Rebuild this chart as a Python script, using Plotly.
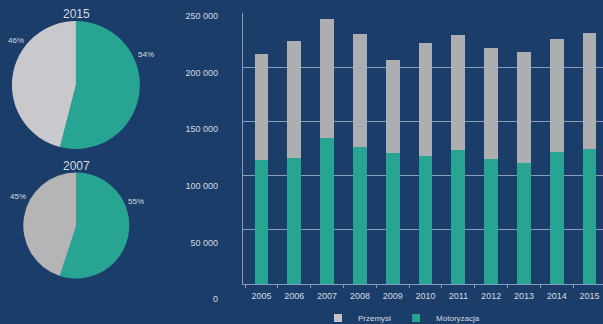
import plotly.graph_objects as go

years = ["2005", "2006", "2007", "2008", "2009", "2010", "2011", "2012", "2013", "2014", "2015"]
total = [212000, 224000, 244500, 230300, 206600, 222000, 229700, 218000, 213700, 226000, 231200]
motoryzacja = [114400, 116000, 135000, 126700, 120500, 118400, 123600, 115300, 111300, 121500, 124500]
przemysl = [t - m for t, m in zip(total, motoryzacja)]

pie_labels = ["Motoryzacja", "Przemysł"]
pie_2015 = [54, 46]
pie_2007 = [55, 45]

ytick_vals = [0, 50000, 100000, 150000, 200000, 250000]
ytick_text = ["0", "50 000", "100 000", "150 000", "200 000", "250 000"]

TEAL = "#28a493"
GRAY = "#adaeb2"
TXT = "#d6dbe2"
GRID = "rgba(185,198,218,0.7)"
FONT = "Liberation Sans"

fig = go.Figure()

fig.add_trace(go.Bar(x=years, y=motoryzacja, name="Motoryzacja", marker_color=TEAL,
                     marker_line_width=0, width=0.42, showlegend=False))
fig.add_trace(go.Bar(x=years, y=przemysl, name="Przemysł", marker_color=GRAY,
                     marker_line_width=0, width=0.42, showlegend=False))
# legend entries with small square swatches
fig.add_trace(go.Scatter(x=[None], y=[None], mode="markers", name="Przemysł",
                         marker=dict(symbol="square", size=8, color="#c4c5c9")))
fig.add_trace(go.Scatter(x=[None], y=[None], mode="markers", name="Motoryzacja",
                         marker=dict(symbol="square", size=8, color=TEAL)))
# dummy trace for the label axis
fig.add_trace(go.Scatter(x=[years[0]], y=[0], yaxis="y2", mode="markers",
                         marker=dict(opacity=0), showlegend=False, hoverinfo="skip"))

fig.add_trace(go.Pie(labels=pie_labels, values=pie_2015, sort=False, direction="clockwise",
                     rotation=0, marker=dict(colors=[TEAL, "#c9c9cd"], line=dict(width=0)),
                     textinfo="none", showlegend=False, hoverinfo="skip",
                     domain=dict(x=[0.0196, 0.2322], y=[0.540, 0.935])))
fig.add_trace(go.Pie(labels=pie_labels, values=pie_2007, sort=False, direction="clockwise",
                     rotation=0, marker=dict(colors=[TEAL, "#b5b5b8"], line=dict(width=0)),
                     textinfo="none", showlegend=False, hoverinfo="skip",
                     domain=dict(x=[0.0386, 0.2144], y=[0.1404, 0.4676])))

for t, py in [("2015", 14), ("2007", 166)]:
    fig.add_annotation(text=t, x=76 / 603, y=1 - py / 324, xref="paper", yref="paper",
                       xanchor="center", yanchor="middle", showarrow=False,
                       font=dict(size=12, color=TXT, family=FONT))

pct = [
    (f"{pie_2015[1]}%", 16, 40),
    (f"{pie_2015[0]}%", 146, 55),
    (f"{pie_2007[1]}%", 18, 196),
    (f"{pie_2007[0]}%", 136, 201),
]
for t, px, py in pct:
    fig.add_annotation(text=t, x=px / 603, y=1 - py / 324, xref="paper", yref="paper",
                       xanchor="center", yanchor="middle", showarrow=False,
                       font=dict(size=8, color=TXT, family=FONT))

fig.update_layout(
    width=603, height=324,
    margin=dict(l=0, r=0, t=0, b=0, autoexpand=False),
    paper_bgcolor="#1b3d69",
    plot_bgcolor="rgba(0,0,0,0)",
    barmode="stack",
    font=dict(family=FONT, color=TXT, size=9),
    xaxis=dict(domain=[243 / 603, 1.0], range=[-0.564, 10.41], type="category",
               automargin=False,
               showgrid=False, showline=True, linecolor=GRID, linewidth=1,
               ticks="outside", tickson="boundaries", ticklen=3, tickcolor=GRID,
               ticklabelstandoff=3, tickfont=dict(size=9, color=TXT)),
    yaxis=dict(domain=[1 - 284 / 324, 1 - 13 / 324], range=[0, 250000], automargin=False,
               showgrid=True, gridcolor=GRID, gridwidth=1, tickvals=ytick_vals,
               showticklabels=False, showline=True, linecolor=GRID, zeroline=False),
    yaxis2=dict(domain=[1 - 299.3 / 324, 1 - 15.7 / 324], range=[0, 250000],
                automargin=False, anchor="free", position=243 / 603, side="left",
                showgrid=False, zeroline=False, showline=False,
                tickvals=ytick_vals, ticktext=ytick_text, ticklabelstandoff=25,
                tickfont=dict(size=9, color=TXT)),
    legend=dict(orientation="h", x=318 / 603, xanchor="left", y=1 - 318 / 324,
                yanchor="middle", traceorder="normal", font=dict(size=8, color=TXT),
                bgcolor="rgba(0,0,0,0)"),
)

fig.write_html("out.html")
